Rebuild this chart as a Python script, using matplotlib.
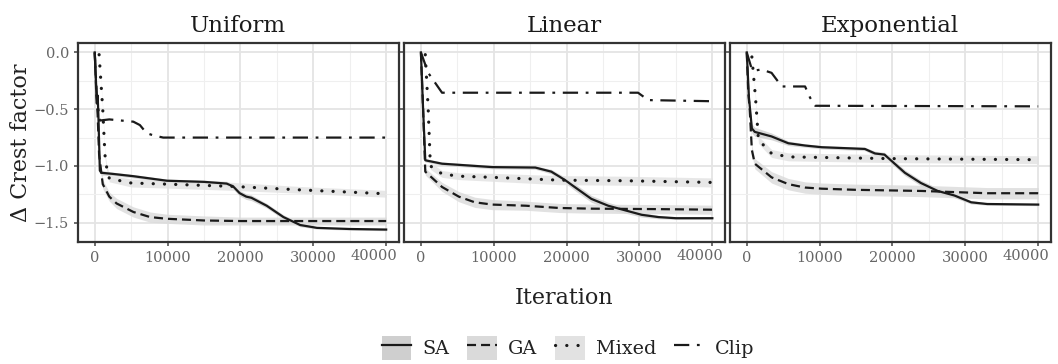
import matplotlib
matplotlib.use("Agg")
import matplotlib.pyplot as plt
import matplotlib.transforms as mtransforms
from matplotlib.lines import Line2D
from matplotlib.patches import Patch
from matplotlib.legend_handler import HandlerTuple
from matplotlib.ticker import MultipleLocator

plt.rcParams['font.family'] = ['DejaVu Serif']
plt.rcParams['lines.scale_dashes'] = False

panel_titles = ["Uniform", "Linear", "Exponential"]
series_names = ["SA", "GA", "Mixed", "Clip"]
x_ticks = [0, 10000, 20000, 30000, 40000]
y_ticks = [0.0, -0.5, -1.0, -1.5]

# ---------------- Uniform ----------------
uni_sa_x = [0, 200, 300, 400, 500, 700, 900, 2500, 5300, 9900, 15000, 18100, 19000, 19900, 20800, 21500, 23600, 25900, 28200, 30500, 35000, 40000]
uni_sa_y = [0, -0.30, -0.45, -0.38, -0.55, -1.04, -1.06, -1.07, -1.09, -1.13, -1.14, -1.155, -1.18, -1.24, -1.27, -1.28, -1.35, -1.45, -1.52, -1.545, -1.555, -1.56]
uni_sa_b = [0, 0.02, 0.02, 0.02, 0.02, 0.02, 0.02, 0.015, 0.015, 0.015, 0.015, 0.02, 0.025, 0.025, 0.025, 0.025, 0.02, 0.02, 0.015, 0.01, 0.01, 0.01]
uni_ga_x = [0, 200, 400, 600, 1100, 2000, 3000, 5300, 7600, 9900, 15000, 20000, 30000, 40000]
uni_ga_y = [0, -0.35, -0.55, -0.90, -1.16, -1.27, -1.33, -1.405, -1.45, -1.465, -1.48, -1.485, -1.485, -1.485]
uni_ga_b = [0, 0.03, 0.03, 0.03, 0.04, 0.04, 0.045, 0.045, 0.045, 0.04, 0.04, 0.035, 0.035, 0.035]
uni_mx_x = [600, 1100, 1400, 1600, 2000, 5000, 9900, 19000, 28000, 40000]
uni_mx_y = [-0.02, -0.50, -0.90, -1.00, -1.11, -1.15, -1.16, -1.18, -1.21, -1.245]
uni_mx_b = [0, 0.02, 0.03, 0.03, 0.03, 0.035, 0.035, 0.035, 0.03, 0.03]
uni_cl_x = [0, 300, 700, 2000, 5300, 6200, 7100, 8000, 9400, 12000, 40000]
uni_cl_y = [0, -0.40, -0.60, -0.59, -0.61, -0.64, -0.71, -0.73, -0.75, -0.75, -0.75]

# ---------------- Linear ----------------
lin_sa_x = [0, 300, 600, 2900, 5200, 9800, 15700, 17900, 19800, 21100, 23400, 25700, 28000, 30300, 32600, 35000, 40000]
lin_sa_y = [0, -0.50, -0.95, -0.98, -0.99, -1.01, -1.014, -1.05, -1.125, -1.185, -1.29, -1.35, -1.39, -1.43, -1.45, -1.46, -1.46]
lin_sa_b = [0, 0.015, 0.015, 0.015, 0.015, 0.015, 0.015, 0.02, 0.025, 0.03, 0.03, 0.03, 0.025, 0.02, 0.015, 0.01, 0.01]
lin_ga_x = [0, 300, 600, 2900, 5200, 7400, 9800, 14400, 19000, 23500, 32600, 40000]
lin_ga_y = [0, -0.50, -1.05, -1.185, -1.27, -1.32, -1.34, -1.35, -1.37, -1.376, -1.38, -1.385]
lin_ga_b = [0, 0.03, 0.03, 0.04, 0.045, 0.045, 0.045, 0.04, 0.04, 0.04, 0.04, 0.04]
lin_mx_x = [600, 1000, 1300, 2900, 5200, 9800, 19000, 28000, 40000]
lin_mx_y = [-0.02, -0.50, -1.00, -1.07, -1.09, -1.10, -1.125, -1.13, -1.145]
lin_mx_b = [0, 0.02, 0.03, 0.03, 0.03, 0.035, 0.04, 0.04, 0.04]
lin_cl_x = [0, 1000, 2900, 29800, 31200, 40000]
lin_cl_y = [0, -0.18, -0.355, -0.355, -0.42, -0.43]

# ---------------- Exponential ----------------
exp_sa_x = [0, 300, 700, 1100, 3400, 5700, 8000, 10300, 16200, 17600, 18900, 20300, 21700, 23900, 26200, 28500, 30800, 33000, 40000]
exp_sa_y = [0, -0.40, -0.67, -0.70, -0.74, -0.80, -0.82, -0.835, -0.85, -0.89, -0.90, -0.98, -1.06, -1.15, -1.22, -1.26, -1.32, -1.335, -1.34]
exp_sa_b = [0, 0.03, 0.04, 0.04, 0.03, 0.02, 0.015, 0.015, 0.015, 0.02, 0.02, 0.025, 0.025, 0.025, 0.025, 0.02, 0.015, 0.01, 0.01]
exp_ga_x = [0, 200, 400, 700, 1100, 3400, 5700, 8000, 10300, 14900, 24000, 33000, 40000]
exp_ga_y = [0, -0.35, -0.50, -0.86, -0.98, -1.10, -1.16, -1.19, -1.20, -1.21, -1.22, -1.24, -1.24]
exp_ga_b = [0, 0.03, 0.03, 0.04, 0.045, 0.05, 0.05, 0.05, 0.05, 0.05, 0.05, 0.05, 0.05]
exp_mx_x = [700, 1200, 1600, 2500, 3400, 5700, 10300, 19400, 40000]
exp_mx_y = [-0.04, -0.40, -0.77, -0.83, -0.89, -0.92, -0.925, -0.935, -0.945]
exp_mx_b = [0, 0.02, 0.03, 0.035, 0.035, 0.035, 0.035, 0.035, 0.035]
exp_cl_x = [0, 700, 1100, 2000, 3400, 4800, 8000, 8700, 9400, 40000]
exp_cl_y = [0, -0.15, -0.16, -0.15, -0.18, -0.30, -0.30, -0.40, -0.47, -0.475]

panels = [
    [(uni_sa_x, uni_sa_y, uni_sa_b), (uni_ga_x, uni_ga_y, uni_ga_b), (uni_mx_x, uni_mx_y, uni_mx_b), (uni_cl_x, uni_cl_y, None)],
    [(lin_sa_x, lin_sa_y, lin_sa_b), (lin_ga_x, lin_ga_y, lin_ga_b), (lin_mx_x, lin_mx_y, lin_mx_b), (lin_cl_x, lin_cl_y, None)],
    [(exp_sa_x, exp_sa_y, exp_sa_b), (exp_ga_x, exp_ga_y, exp_ga_b), (exp_mx_x, exp_mx_y, exp_mx_b), (exp_cl_x, exp_cl_y, None)],
]

line_styles = [
    dict(linestyle='-', linewidth=1.6),
    dict(linestyle=(0, (6.5, 3.6)), linewidth=1.6),
    dict(linestyle=(0, (0.1, 8.0)), linewidth=2.3, dash_capstyle='round'),
    dict(linestyle=(0, (11, 5.5, 2, 5.5)), linewidth=1.6),
]
band_colors = ['#cfcfcf', '#dadada', '#e2e2e2']

fig = plt.figure(figsize=(10.58, 3.64), dpi=100)
lefts = [0.0737, 0.382, 0.690]
width = 0.303
bottom = 0.335
height = 0.546

minus = "\u2212"
for i, (title, series) in enumerate(zip(panel_titles, panels)):
    ax = fig.add_axes([lefts[i], bottom, width, height])
    for j, (xs, ys, bs) in enumerate(series):
        if bs is not None:
            lo = [y - b for y, b in zip(ys, bs)]
            hi = [y + b for y, b in zip(ys, bs)]
            ax.fill_between(xs, lo, hi, color=band_colors[j], alpha=0.8, linewidth=0, zorder=2)
    for j, (xs, ys, bs) in enumerate(series):
        ax.plot(xs, ys, color='#1a1a1a', zorder=3 + (3 - j) * 0.1, **line_styles[j])
    ax.set_xlim(-2300, 41700)
    ax.set_ylim(-1.67, 0.08)
    ax.set_xticks(x_ticks)
    ax.set_xticklabels([str(v) for v in x_ticks])
    ax.xaxis.set_minor_locator(MultipleLocator(5000))
    ax.yaxis.set_minor_locator(MultipleLocator(0.25))
    ax.set_yticks(y_ticks)
    if i == 0:
        ax.set_yticklabels([f"{v:.1f}".replace("-", minus) for v in y_ticks])
        ax.set_ylabel("Δ Crest factor", fontsize=16, color='#222222')
        ax.yaxis.set_label_coords(-0.143, 0.5)
    else:
        ax.set_yticklabels([])
    ax.grid(True, which='major', color='#e4e4e4', linewidth=1.3, zorder=0)
    ax.grid(True, which='minor', color='#efefef', linewidth=0.8, zorder=0)
    ax.set_axisbelow(True)
    ax.tick_params(axis='both', which='major', colors='#444444', labelsize=10.5, length=3, width=1.1)
    ax.tick_params(axis='both', which='minor', length=0)
    ax.tick_params(axis='both', labelcolor='#666666')
    for sp in ax.spines.values():
        sp.set_color('#333333')
        sp.set_linewidth(1.6)
    ax.set_title(title, fontsize=16.5, color='#1a1a1a', pad=8.5)
    last = ax.xaxis.get_major_ticks()[-1].label1
    last.set_transform(last.get_transform() + mtransforms.ScaledTranslation(-0.12, 0.02, fig.dpi_scale_trans))

fig.text(0.533, 0.181, "Iteration", ha='center', va='center', fontsize=16, color='#222222')

handles = []
for j in range(4):
    ln = Line2D([0], [0], color='#1a1a1a', **line_styles[j])
    if j < 3:
        handles.append((Patch(facecolor=band_colors[j], edgecolor='none'), ln))
    else:
        handles.append(ln)
leg = fig.legend(handles, series_names, loc='center', bbox_to_anchor=(0.537, 0.044), ncol=4,
                 frameon=False, fontsize=13.8, handlelength=1.56, handleheight=1.56,
                 columnspacing=0.94, handletextpad=0.57,
                 handler_map={tuple: HandlerTuple(ndivide=1)})
for t in leg.get_texts():
    t.set_color('#222222')

fig.savefig("out.png", dpi=100)
